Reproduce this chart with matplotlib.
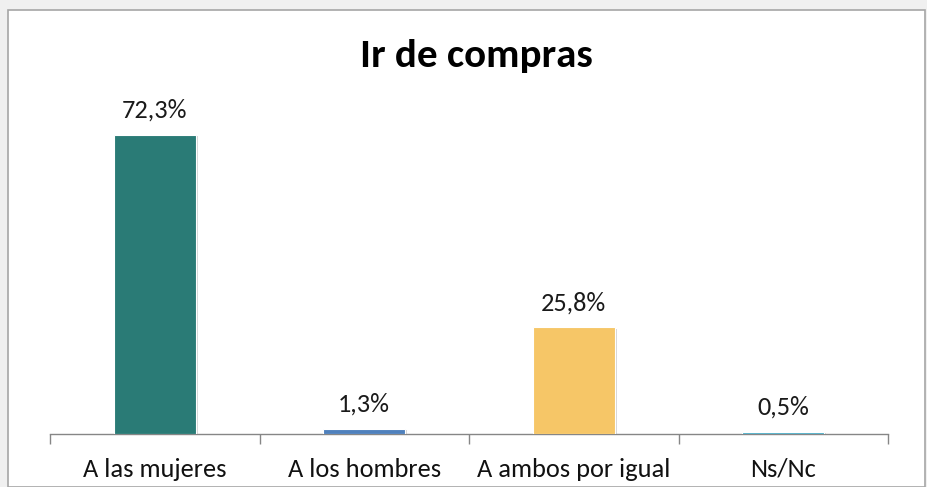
import matplotlib
matplotlib.use("Agg")
import matplotlib.pyplot as plt
from matplotlib.patches import Rectangle
import matplotlib.patheffects as pe
from matplotlib import font_manager

categories = ["A las mujeres", "A los hombres", "A ambos por igual", "Ns/Nc"]
values = [72.3, 1.3, 25.8, 0.5]
labels = ["72,3%", "1,3%", "25,8%", "0,5%"]
colors = ["#2a7b76", "#4f81bd", "#f6c667", "#4bacc6"]
title = "Ir de compras"

names = {f.name for f in font_manager.fontManager.ttflist}
if "Carlito" in names:
    fam, lab_size, tick_size, title_size = "Carlito", 19, 19, 29.5
else:
    fam, lab_size, tick_size, title_size = "Lato", 17, 18, 27.5

W, H = 927, 487
fig = plt.figure(figsize=(W / 100, H / 100), dpi=100)
fig.patch.set_facecolor("#f0f0f0")
plt.rcParams['font.family'] = [fam, 'DejaVu Sans']

panel = Rectangle((8 / W, 0), (925 - 8) / W, (H - 10) / H, transform=fig.transFigure,
                  facecolor="white", edgecolor="#a6a6a6", linewidth=1.2, zorder=-10)
fig.add_artist(panel)

ax_left = 50 / W
ax_width = (888 - 50) / W
ax_bottom = (H - 434) / H
ymax = 80
ax_height = (ymax * 299 / 72.3) / H
ax = fig.add_axes([ax_left, ax_bottom, ax_width, ax_height])
ax.set_facecolor("none")
ax.set_zorder(5)

x = list(range(len(categories)))
bars = ax.bar(x, values, width=0.39, color=colors, zorder=3,
              edgecolor="white", linewidth=0.8)
for b in bars:
    b.set_path_effects([pe.SimplePatchShadow(offset=(1.5, -1), shadow_rgbFace="#bbbbbb", alpha=0.6), pe.Normal()])

ax.set_xlim(-0.5, len(categories) - 0.5)
ax.set_ylim(0, ymax)

for xi, v, lab in zip(x, values, labels):
    ax.annotate(lab, (xi, v), xytext=(0, 12.2), textcoords="offset points",
                ha="center", va="baseline", fontsize=lab_size, color="#1a1a1a")

for s in ["top", "right", "left"]:
    ax.spines[s].set_visible(False)
ax.spines["bottom"].set_color("#868686")
ax.spines["bottom"].set_linewidth(1.0)
ax.set_yticks([])

ax.set_xticks([i - 0.5 for i in range(len(categories) + 1)], minor=False)
ax.set_xticklabels([])
ax.tick_params(axis="x", which="major", length=7, color="#868686", width=1.0, direction="out")
ax.set_xticks(x, minor=True)
ax.set_xticklabels(categories, minor=True, fontsize=tick_size, color="#111111")
ax.tick_params(axis="x", which="minor", length=0, pad=17)

fig.text(476.5 / W, 1 - 67 / H, title, ha="center", va="baseline", fontsize=title_size,
         fontweight="bold", color="black")

fig.savefig("out.png", dpi=100, facecolor=fig.get_facecolor())
